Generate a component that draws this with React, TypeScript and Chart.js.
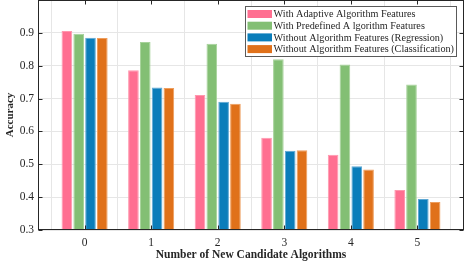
import React, { useEffect, useRef } from 'react';
import { Chart, registerables } from 'chart.js';

Chart.register(...registerables);

const categories = [0, 1, 2, 3, 4, 5];
const xTickLabels = ['0', '1', '2', '3', '4', '5'];
const yTickValues = [0.3, 0.4, 0.5, 0.6, 0.7, 0.8, 0.9, 1.0];
const yTickLabels = ['0.3', '0.4', '0.5', '0.6', '0.7', '0.8', '0.9', ''];
const seriesNames = [
  'With Adaptive Algorithm Features',
  'With Predefined A lgorithm Features',
  'Without Algorithm Features (Regression)',
  'Without Algorithm Features (Classification)',
];
const adaptive = [0.906, 0.786, 0.711, 0.581, 0.529, 0.422];
const predefined = [0.897, 0.872, 0.867, 0.820, 0.804, 0.743];
const regression = [0.885, 0.734, 0.690, 0.541, 0.494, 0.394];
const classification = [0.884, 0.732, 0.684, 0.543, 0.484, 0.385];
const fillColors = ['#FF6F91', '#83BF74', '#0A7DBA', '#E0711A'];
const edgeColors = ['#FF97AE', '#A6D29A', '#5EA8D4', '#EE9D5C'];

const FONT = "'Liberation Serif', 'Times New Roman', serif";
const TEXT = '#262626';

const framePlugin = {
  id: 'matlabFrame',
  afterDraw(chart: any) {
    const { ctx, chartArea, scales } = chart;
    const L = Math.round(chartArea.left) + 0.5;
    const R = Math.round(chartArea.right) - 0.5;
    const T = Math.round(chartArea.top) + 0.5;
    const B = Math.round(chartArea.bottom) - 0.5;
    ctx.save();
    ctx.strokeStyle = TEXT;
    ctx.lineWidth = 1;
    ctx.strokeRect(L, T, R - L, B - T);
    ctx.beginPath();
    categories.forEach((c) => {
      const px = Math.round(scales.x.getPixelForValue(c)) + 0.5;
      ctx.moveTo(px, B);
      ctx.lineTo(px, B - 4);
      ctx.moveTo(px, T);
      ctx.lineTo(px, T + 4);
    });
    yTickValues.forEach((v) => {
      const py = Math.round(scales.y.getPixelForValue(v)) + 0.5;
      ctx.moveTo(L, py);
      ctx.lineTo(L + 4, py);
      ctx.moveTo(R, py);
      ctx.lineTo(R - 4, py);
    });
    ctx.stroke();

    // legend
    ctx.font = `10.2px ${FONT}`;
    const maxW = Math.max(...seriesNames.map((s) => ctx.measureText(s).width));
    const boxRight = Math.round(chartArea.right) - 7;
    const textX = boxRight - 3 - maxW;
    const boxLeft = Math.round(textX - 29);
    const boxTop = Math.round(chartArea.top) + 6;
    const rowH = 11.7;
    const boxH = 51;
    ctx.fillStyle = '#ffffff';
    ctx.fillRect(boxLeft, boxTop, boxRight - boxLeft, boxH);
    ctx.strokeStyle = '#5a5a5a';
    ctx.strokeRect(boxLeft + 0.5, boxTop + 0.5, boxRight - boxLeft - 1, boxH - 1);
    ctx.textBaseline = 'middle';
    ctx.textAlign = 'left';
    seriesNames.forEach((name, i) => {
      const cy = boxTop + 8 + i * rowH;
      ctx.fillStyle = fillColors[i];
      ctx.fillRect(boxLeft + 2.5, cy - 4, 24.5, 8);
      ctx.fillStyle = TEXT;
      ctx.fillText(name, textX, cy + 0.5);
    });
    ctx.restore();
  },
};

export default function App() {
  const ref = useRef<HTMLCanvasElement>(null);
  useEffect(() => {
    document.body.style.margin = '0';
    const series = [adaptive, predefined, regression, classification];
    const chart = new Chart(ref.current as HTMLCanvasElement, {
      type: 'bar',
      data: {
        datasets: series.map((vals, i) => ({
          label: seriesNames[i],
          data: categories.map((c, j) => ({ x: c, y: vals[j] })),
          backgroundColor: fillColors[i],
          borderColor: edgeColors[i],
          borderWidth: 1,
          categoryPercentage: 0.71,
          barPercentage: 0.9,
        })),
      },
      options: {
        animation: false,
        responsive: false,
        devicePixelRatio: 1,
        layout: { padding: { top: 0, right: 7, bottom: 0, left: 0 } },
        plugins: { legend: { display: false }, tooltip: { enabled: false } },
        scales: {
          x: {
            type: 'linear',
            min: -0.7,
            max: 5.7,
            offset: false,
            afterBuildTicks: (s: any) => {
              s.ticks = categories.map((v) => ({ value: v }));
            },
            afterFit: (s: any) => {
              s.height = 33;
              s.paddingLeft = 0;
              s.paddingRight = 0;
            },
            grid: { color: '#e6e6e6', drawTicks: false, lineWidth: 1 },
            border: { display: false },
            ticks: {
              padding: 6,
              color: TEXT,
              font: { family: FONT, size: 11.5 },
              callback: (v: any) => xTickLabels[categories.indexOf(Number(v))] ?? '',
              maxRotation: 0,
              autoSkip: false,
            },
            title: {
              display: true,
              text: 'Number of New Candidate Algorithms',
              color: TEXT,
              font: { family: FONT, size: 11.5, weight: 'bold' },
              padding: { top: 0, bottom: 1 },
            },
          },
          y: {
            type: 'linear',
            min: 0.3,
            max: 1.0,
            afterBuildTicks: (s: any) => {
              s.ticks = yTickValues.map((v) => ({ value: v }));
            },
            afterFit: (s: any) => {
              s.width = 38;
              s.paddingTop = 0;
              s.paddingBottom = 0;
            },
            grid: { color: '#e6e6e6', drawTicks: false, lineWidth: 1 },
            border: { display: false },
            ticks: {
              padding: 4,
              color: TEXT,
              font: { family: FONT, size: 11.5 },
              callback: (v: any) => yTickLabels[yTickValues.findIndex((t) => Math.abs(t - Number(v)) < 1e-6)] ?? '',
              autoSkip: false,
            },
            title: {
              display: true,
              text: 'Accuracy',
              color: TEXT,
              font: { family: FONT, size: 11, weight: 'bold' },
              padding: { top: 4, bottom: 0 },
            },
          },
        },
      },
      plugins: [framePlugin],
    } as any);
    return () => chart.destroy();
  }, []);
  return (
    <div style={{ position: 'absolute', left: 0, top: 0, width: 471, height: 263 }}>
      <canvas ref={ref} width={471} height={263} style={{ width: 471, height: 263, display: 'block' }} />
    </div>
  );
}
